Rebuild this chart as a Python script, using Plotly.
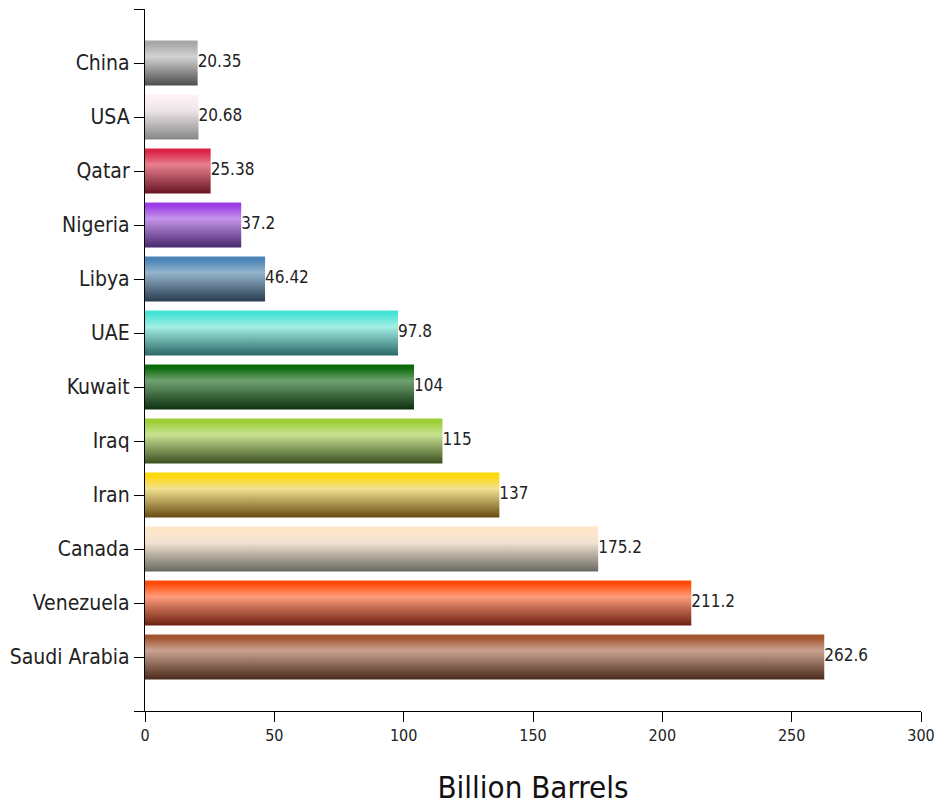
import plotly.graph_objects as go

# Proven crude oil reserves by country (billion barrels), listed top to bottom
countries = ["China", "USA", "Qatar", "Nigeria", "Libya", "UAE", "Kuwait",
             "Iraq", "Iran", "Canada", "Venezuela", "Saudi Arabia"]
reserves = [20.35, 20.68, 25.38, 37.2, 46.42, 97.8, 104, 115, 137, 175.2, 211.2, 262.6]
labels = ["20.35", "20.68", "25.38", "37.2", "46.42", "97.8", "104", "115",
          "137", "175.2", "211.2", "262.6"]

# Cylinder shading per bar: (top edge, highlight, bottom edge)
shades = [
    ("#a8a8a8", "#d2d2d2", "#4e4e4e"),
    ("#fff0f5", "#ece4e8", "#868686"),
    ("#dc2448", "#e8808e", "#681424"),
    ("#9c3ee6", "#c494ea", "#48286c"),
    ("#4a84b6", "#94b4cc", "#2a3c50"),
    ("#44e2d4", "#a2f0e4", "#2a6868"),
    ("#0a6a0a", "#70a270", "#0c3010"),
    ("#9ccf36", "#c8e292", "#3a5020"),
    ("#ffd808", "#f2e292", "#684a10"),
    ("#ffe6c8", "#f2e2d2", "#686860"),
    ("#ff4a08", "#ff9c7a", "#6a2010"),
    ("#a2562f", "#caa292", "#4a2a1a"),
]

x_ticks = [0, 50, 100, 150, 200, 250, 300]
FONT = "Liberation Sans Narrow, Arial Narrow, DejaVu Sans Condensed, sans-serif"

n = len(countries)
# first country at the top: position n-1, last at 0
pos = [n - 1 - i for i in range(n)]
half = 0.415

fig = go.Figure()
for v, p, (top, mid, bot) in zip(reserves, pos, shades):
    fig.add_trace(go.Scatter(
        x=[0, v, v, 0, 0],
        y=[p - half, p - half, p + half, p + half, p - half],
        mode="lines", line=dict(width=0), fill="toself",
        fillgradient=dict(type="vertical",
                          colorscale=[[0, bot], [0.64, mid], [0.93, top], [1, top]]),
        hoverinfo="skip", showlegend=False,
    ))

fig.add_trace(go.Scatter(
    x=reserves, y=pos, mode="text", text=labels, textposition="middle right",
    textfont=dict(family=FONT, size=17, color="#222222"),
    hoverinfo="skip", showlegend=False,
))

fig.update_layout(
    width=941, height=807,
    margin=dict(l=145, r=20, t=9, b=96),
    paper_bgcolor="white", plot_bgcolor="white",
    font=dict(family=FONT, color="#222222"),
    xaxis=dict(
        range=[0, 300], tickvals=x_ticks, ticktext=[str(t) for t in x_ticks],
        showgrid=False, zeroline=False, showline=True, linecolor="black", linewidth=1.3,
        ticks="outside", ticklen=10, tickcolor="black", tickwidth=1.3,
        tickfont=dict(family=FONT, size=16, color="#222222"),
        title=dict(text="Billion Barrels", font=dict(family=FONT, size=31, color="#111111"),
                   standoff=31),
        automargin=False,
    ),
    yaxis=dict(
        range=[-1, n], tickvals=[-1] + pos + [n], ticktext=[""] + countries + [""],
        showgrid=False, zeroline=False, showline=True, linecolor="black", linewidth=1.3,
        ticks="outside", ticklen=10, tickcolor="black", tickwidth=1.3,
        tickfont=dict(family=FONT, size=21, color="#222222"),
        automargin=False,
    ),
)

fig.write_html("out.html")
